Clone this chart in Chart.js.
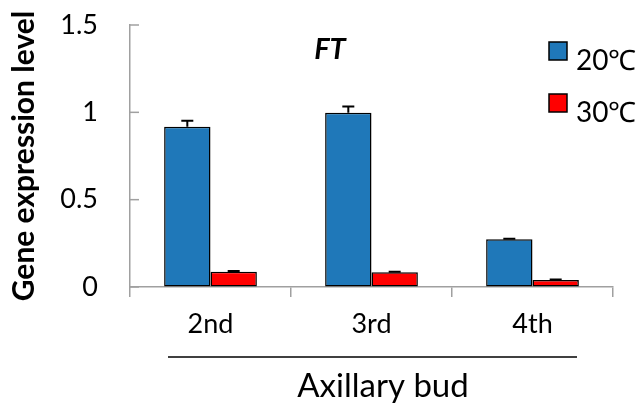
<!DOCTYPE html>
<html>
<head>
<meta charset="utf-8">
<script src="https://cdn.jsdelivr.net/npm/chart.js@4.4.1/dist/chart.umd.min.js"></script>
<style>
  html, body { margin: 0; padding: 0; background: #fff; }
  #wrap { width: 641px; height: 405px; }
</style>
</head>
<body>
<div id="wrap"><canvas id="myChart" width="641" height="405"></canvas></div>
<script>
// data
var categories = ['2nd', '3rd', '4th'];
var series20 = [0.918, 0.998, 0.273];
var err20 = [0.034, 0.035, 0.003];
var series30 = [0.088, 0.085, 0.040];
var err30 = [0.004, 0.003, 0.003];
var yTicks = [0, 0.5, 1, 1.5];

var FONT = 'Lato, "Open Sans", sans-serif';
var AXIS_GREY = '#a0a0a0';

// error bars, inside y ticks, legend, title and the bracket line
var extras = {
    id: 'extras',
    afterDatasetsDraw: function (chart) {
        var ctx = chart.ctx;
        var y = chart.scales.y;
        ctx.save();
        ctx.strokeStyle = '#000';
        ctx.lineWidth = 2;
        chart.data.datasets.forEach(function (ds, i) {
            var meta = chart.getDatasetMeta(i);
            meta.data.forEach(function (bar, j) {
                var top = y.getPixelForValue(ds.data[j] + ds.errors[j]);
                ctx.beginPath();
                ctx.moveTo(bar.x, bar.y);
                ctx.lineTo(bar.x, top);
                ctx.moveTo(bar.x - 6, top);
                ctx.lineTo(bar.x + 6, top);
                ctx.stroke();
            });
        });
        ctx.restore();
    },
    afterDraw: function (chart) {
        var ctx = chart.ctx;
        var y = chart.scales.y;
        var area = chart.chartArea;
        ctx.save();

        // y ticks point into the plot
        ctx.strokeStyle = AXIS_GREY;
        ctx.lineWidth = 1.5;
        yTicks.forEach(function (v) {
            var py = y.getPixelForValue(v);
            ctx.beginPath();
            ctx.moveTo(area.left, py);
            ctx.lineTo(area.left + 9, py);
            ctx.stroke();
        });

        // gene name
        ctx.fillStyle = '#000';
        ctx.font = 'italic bold 29px ' + FONT;
        ctx.textAlign = 'center';
        ctx.textBaseline = 'middle';
        ctx.fillText('FT', 330, 50);

        // legend
        ctx.textAlign = 'left';
        ctx.textBaseline = 'alphabetic';
        ctx.font = '28px ' + FONT;
        chart.data.datasets.forEach(function (ds, i) {
            var by = 42 + i * 52;
            ctx.fillStyle = ds.backgroundColor;
            ctx.fillRect(549, by, 18, 18);
            ctx.strokeStyle = '#000';
            ctx.lineWidth = 1.5;
            ctx.strokeRect(549, by, 18, 18);
            ctx.fillStyle = '#000';
            ctx.fillText(ds.label, 576, by + 28);
        });

        // bracket line under the categories
        ctx.strokeStyle = '#000';
        ctx.lineWidth = 1.5;
        ctx.beginPath();
        ctx.moveTo(168, 357);
        ctx.lineTo(577, 357);
        ctx.stroke();

        // x axis title
        ctx.font = '33px ' + FONT;
        ctx.textAlign = 'center';
        ctx.textBaseline = 'middle';
        ctx.fillText('Axillary bud', 383, 386);

        ctx.restore();
    }
};

var ctxBar = document.getElementById('myChart').getContext('2d');
new Chart(ctxBar, {
    type: 'bar',
    data: {
        labels: categories,
        datasets: [{
            label: '20\u2103',
            data: series20,
            errors: err20,
            backgroundColor: '#1f78b9',
            borderColor: '#000',
            borderWidth: 1.5,
            borderSkipped: false
        }, {
            label: '30\u2103',
            data: series30,
            errors: err30,
            backgroundColor: '#ff0000',
            borderColor: '#000',
            borderWidth: 1.5,
            borderSkipped: false
        }]
    },
    options: {
        responsive: false,
        animation: false,
        events: [],
        layout: { padding: { top: 25, right: 28, left: 0, bottom: 0 } },
        datasets: { bar: { categoryPercentage: 0.576, barPercentage: 1 } },
        plugins: {
            legend: { display: false },
            tooltip: { enabled: false }
        },
        scales: {
            x: {
                grid: {
                    drawOnChartArea: false,
                    drawTicks: true,
                    tickLength: 10,
                    color: AXIS_GREY,
                    lineWidth: 1.5
                },
                border: { color: AXIS_GREY, width: 1.5 },
                ticks: {
                    color: '#000',
                    font: { family: FONT, size: 27 },
                    padding: 11
                },
                afterFit: function (scale) { scale.height = 118; }
            },
            y: {
                min: 0,
                max: 1.5,
                grid: {
                    drawOnChartArea: false,
                    drawTicks: true,
                    tickLength: 28,
                    color: 'rgba(0,0,0,0)'
                },
                border: { color: AXIS_GREY, width: 1.5 },
                ticks: {
                    stepSize: 0.5,
                    color: '#000',
                    padding: 4,
                    font: { family: FONT, size: 27 },
                    callback: function (v) { return String(v); }
                },
                title: {
                    display: true,
                    text: 'Gene expression level',
                    color: '#000',
                    font: { family: FONT, size: 30, weight: 'bold' },
                    padding: { top: 6, bottom: 0 }
                },
                afterFit: function (scale) { scale.width = 130; }
            }
        }
    },
    plugins: [extras]
});
</script>
</body>
</html>
